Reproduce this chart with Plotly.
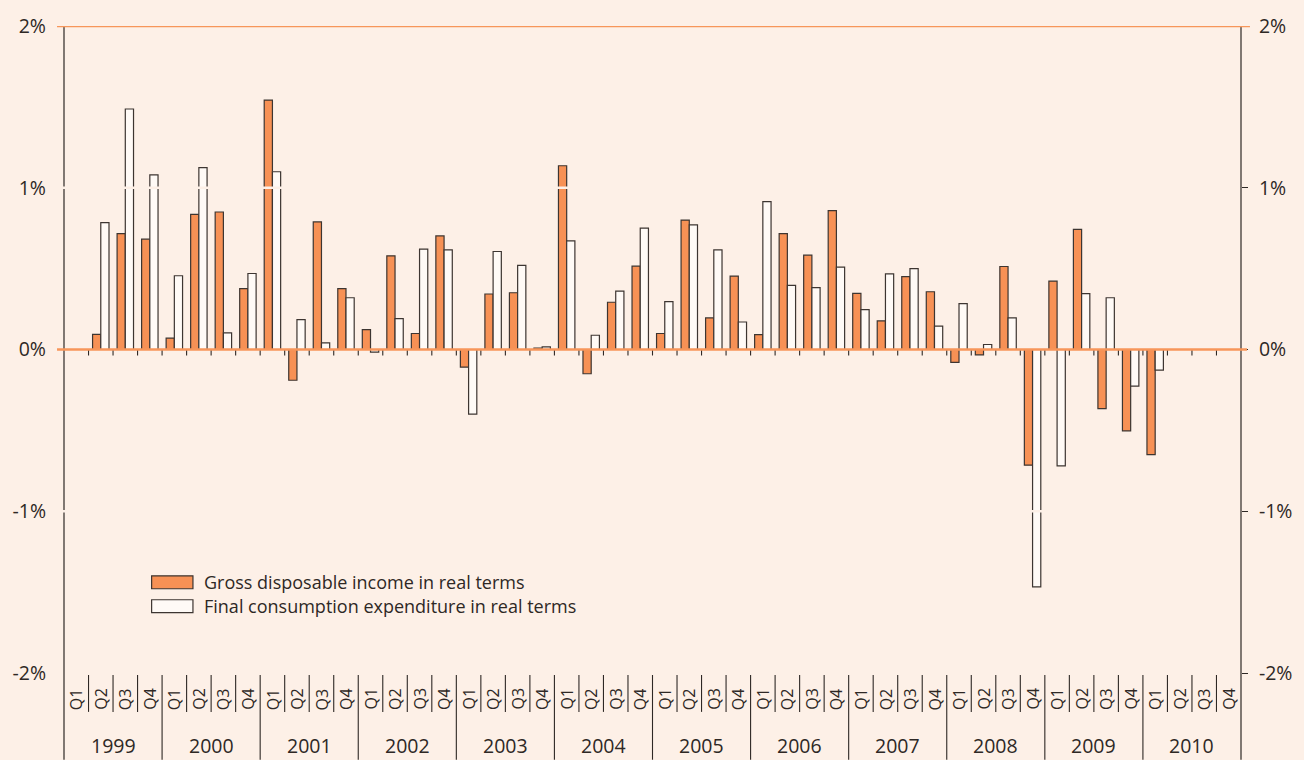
import plotly.graph_objects as go

# ---------------- data ----------------
years = ["1999", "2000", "2001", "2002", "2003", "2004", "2005", "2006", "2007", "2008", "2009", "2010"]
quarters = ["Q1", "Q2", "Q3", "Q4"]
categories = [f"{y} {q}" for y in years for q in quarters]

income_name = "Gross disposable income in real terms"
consumption_name = "Final consumption expenditure in real terms"

income = [None, 0.094, 0.717, 0.682,
          0.070, 0.836, 0.850, 0.376,
          1.542, -0.190, 0.789, 0.376,
          0.123, 0.579, 0.099, 0.702,
          -0.109, 0.343, 0.351, 0.008,
          1.136, -0.150, 0.292, 0.515,
          0.099, 0.800, 0.195, 0.454,
          0.092, 0.717, 0.583, 0.858,
          0.347, 0.177, 0.450, 0.357,
          -0.080, -0.033, 0.513, -0.715,
          0.423, 0.743, -0.365, -0.503,
          -0.650, None, None, None]

consumption = [None, 0.784, 1.487, 1.080,
               0.456, 1.125, 0.103, 0.470,
               1.099, 0.185, 0.041, 0.320,
               -0.016, 0.191, 0.620, 0.616,
               -0.400, 0.606, 0.520, 0.016,
               0.671, 0.088, 0.361, 0.750,
               0.296, 0.770, 0.616, 0.170,
               0.914, 0.396, 0.382, 0.509,
               0.246, 0.468, 0.500, 0.144,
               0.283, 0.031, 0.195, -1.468,
               -0.720, 0.345, 0.320, -0.226,
               -0.127, None, None, None]

y_tickvals = [2, 1, 0, -1, -2]
y_ticktext = ["2%", "1%", "0%", "-1%", "-2%"]

# ---------------- style ----------------
BG = "#FDF0E7"
ORANGE = "#F79155"
LINE_ORANGE = "#F7965A"
DARK = "#2E2825"
OUTLINE = "#3D3531"
WHITE_BAR = "#FFFAF6"
FONT = "Open Sans"

W, H = 1304, 760
ML, MR, MT, MB = 62, 60, 24, 87
plot_h = H - MT - MB

def py(pix):
    """pixel y (from top) -> paper y"""
    return (H - MB - pix) / plot_h

def px(pix):
    return (pix - ML) / (W - ML - MR)

n = len(categories)

fig = go.Figure()
fig.add_trace(go.Bar(x=categories, y=income, name=income_name,
                     marker=dict(color=ORANGE, line=dict(color=OUTLINE, width=1.2)),
                     showlegend=False))
fig.add_trace(go.Bar(x=categories, y=consumption, name=consumption_name,
                     marker=dict(color=WHITE_BAR, line=dict(color=OUTLINE, width=1.2)),
                     showlegend=False))
# invisible trace to activate the right-hand axis
fig.add_trace(go.Scatter(x=[categories[0]], y=[None], yaxis="y2", showlegend=False,
                         hoverinfo="skip", mode="markers"))

shapes = []
for xp in (0.0, 1.0):
    shapes.append(dict(type="line", xref="paper", yref="paper", x0=xp, x1=xp,
                       y0=1, y1=py(H), line=dict(color=DARK, width=1.2), layer="above"))
for i in range(1, n):
    xp = i / n
    bottom = py(H) if i % 4 == 0 else py(712)
    shapes.append(dict(type="line", xref="paper", yref="paper", x0=xp, x1=xp,
                       y0=py(675), y1=bottom, line=dict(color=DARK, width=1.1), layer="above"))
    shapes.append(dict(type="line", xref="paper", yref="y", x0=xp, x1=xp,
                       ysizemode="pixel", yanchor=0, y0=0, y1=-6,
                       line=dict(color=DARK, width=1.1), layer="above"))
for yv in (1, -1):
    shapes.append(dict(type="line", xref="paper", yref="y", x0=-0.002, x1=0.996,
                       y0=yv, y1=yv, line=dict(color=BG, width=2.5), layer="above"))
shapes.append(dict(type="line", xref="paper", yref="y", x0=px(55), x1=px(1253),
                   y0=2, y1=2, line=dict(color=LINE_ORANGE, width=2.5), layer="above"))
shapes.append(dict(type="line", xref="paper", yref="y", x0=px(55), x1=px(1250),
                   y0=0, y1=0, line=dict(color=LINE_ORANGE, width=2.5), layer="above"))
shapes.append(dict(type="rect", xref="paper", yref="paper", x0=px(150), x1=px(191.5),
                   y0=py(588.5), y1=py(575.5), fillcolor=ORANGE,
                   line=dict(color=OUTLINE, width=1.2), layer="above"))
shapes.append(dict(type="rect", xref="paper", yref="paper", x0=px(150), x1=px(191.5),
                   y0=py(612.5), y1=py(599.5), fillcolor=WHITE_BAR,
                   line=dict(color=OUTLINE, width=1.2), layer="above"))

annotations = []
for c in categories:
    annotations.append(dict(x=c, xref="x", y=py(699), yref="paper", text=c.split(" ")[1],
                            textangle=-90, showarrow=False, xanchor="center", yanchor="middle",
                            font=dict(family=FONT, size=16, color=DARK)))
for k, yr in enumerate(years):
    annotations.append(dict(x=(4 * k + 2) / n, xref="paper", y=py(746), yref="paper", text=yr,
                            showarrow=False, xanchor="center", yanchor="middle",
                            font=dict(family=FONT, size=19.5, color=DARK)))
annotations.append(dict(x=px(201), y=py(582), xref="paper", yref="paper", text=income_name,
                        xanchor="left", yanchor="middle", showarrow=False,
                        font=dict(family=FONT, size=18, color=DARK)))
annotations.append(dict(x=px(201), y=py(606), xref="paper", yref="paper", text=consumption_name,
                        xanchor="left", yanchor="middle", showarrow=False,
                        font=dict(family=FONT, size=18, color=DARK)))

fig.update_layout(
    width=W, height=H,
    margin=dict(l=ML, r=MR, t=MT, b=MB, pad=0),
    paper_bgcolor=BG, plot_bgcolor=BG,
    barmode="group", bargap=0.33, bargroupgap=0,
    showlegend=False,
    font=dict(family=FONT, color=DARK),
    xaxis=dict(type="category", categoryorder="array", categoryarray=categories,
               range=[-0.5, n - 0.5], showticklabels=False, ticks="",
               showgrid=False, zeroline=False, showline=False, fixedrange=True),
    yaxis=dict(range=[-2, 2], tickvals=y_tickvals, ticktext=y_ticktext,
               showgrid=False, zeroline=False, showline=False, ticks="",
               ticklabelstandoff=17, tickfont=dict(family=FONT, size=19.5, color=DARK)),
    yaxis2=dict(range=[-2, 2], tickvals=y_tickvals, ticktext=y_ticktext,
                overlaying="y", side="right", showgrid=False, zeroline=False,
                showline=False, ticks="outside", ticklen=6, tickcolor=DARK, tickwidth=1.1,
                ticklabelstandoff=7, tickfont=dict(family=FONT, size=19.5, color=DARK)),
    shapes=shapes,
    annotations=annotations,
)

fig.write_html("out.html",
               config={"displayModeBar": False},
               post_script="document.body.style.margin='0';"
                           "document.body.style.background='" + BG + "';")
